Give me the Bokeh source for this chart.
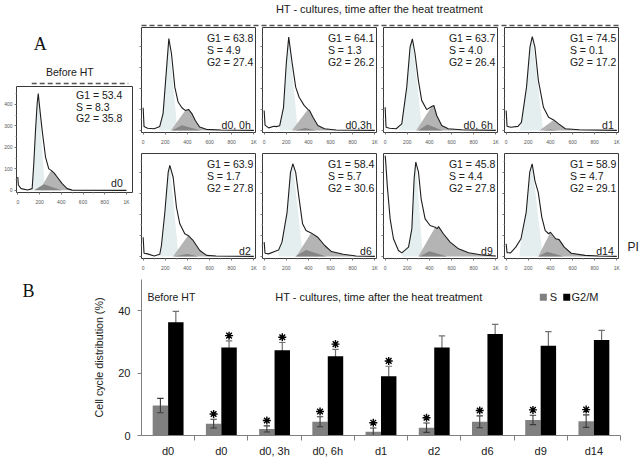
from bokeh.plotting import figure
from bokeh.layouts import row, column
from bokeh.models import Range1d, FixedTicker, Spacer, LinearAxis
from bokeh.core.properties import value
from bokeh.embed import file_html
from bokeh.resources import INLINE

SANS = "Liberation Sans"
SERIF = "Liberation Serif"

# ---------------- histogram data (PI channel, counts) ----------------
before_x = [0, 5, 30, 90, 132, 147, 163, 178, 188, 207, 224, 255, 285, 307, 335, 362, 408, 454, 500, 1000]
before_y = [62, 25, 8, 2, 8, 124, 279, 403, 450, 357, 279, 155, 100, 93, 80, 62, 31, 8, 1, 0]
d0_0h_x = [0, 8, 40, 100, 150, 180, 210, 232, 256, 286, 316, 350, 380, 410, 440, 470, 510, 570, 700, 1000]
d0_0h_y = [108, 18, 10, 8, 19, 80, 286, 437, 365, 206, 135, 108, 95, 100, 80, 48, 16, 5, 2, 0]
d0_3h_x = [0, 8, 40, 90, 110, 140, 175, 200, 222, 254, 285, 316, 361, 395, 410, 441, 485, 545, 650, 1000]
d0_3h_y = [95, 25, 12, 20, 18, 22, 110, 320, 444, 317, 206, 158, 119, 100, 95, 63, 23, 8, 2, 0]
d0_6h_x = [0, 8, 40, 100, 150, 195, 225, 246, 270, 300, 330, 375, 420, 440, 466, 511, 570, 690, 1000]
d0_6h_y = [110, 15, 10, 8, 31, 206, 396, 436, 365, 238, 143, 99, 114, 119, 71, 23, 8, 3, 0]
d1_x = [0, 8, 40, 107, 138, 184, 215, 236, 260, 291, 337, 383, 429, 474, 535, 660, 1000]
d1_y = [95, 20, 15, 19, 38, 206, 396, 447, 396, 238, 110, 63, 50, 31, 8, 3, 0]
d2_x = [0, 8, 40, 100, 150, 165, 196, 226, 241, 271, 301, 331, 376, 406, 451, 512, 573, 660, 1000]
d2_y = [91, 15, 12, 2, 10, 52, 210, 400, 433, 377, 234, 155, 108, 100, 76, 28, 5, 2, 0]
d6_x = [0, 8, 40, 100, 130, 161, 207, 238, 259, 285, 316, 347, 378, 424, 485, 547, 608, 715, 830, 1000]
d6_y = [68, 15, 12, 25, 30, 68, 210, 400, 441, 400, 274, 155, 123, 112, 91, 52, 23, 10, 2, 0]
d9_x = [0, 5, 20, 45, 75, 120, 150, 211, 241, 262, 277, 301, 325, 361, 406, 452, 470, 482, 526, 587, 663, 754, 874, 1000]
d9_y = [480, 450, 330, 179, 84, 28, 17, 44, 131, 372, 449, 401, 274, 179, 147, 139, 132, 142, 108, 68, 36, 17, 7, 2]
d14_x = [0, 8, 40, 87, 134, 181, 213, 235, 260, 290, 322, 353, 384, 400, 447, 478, 525, 588, 713, 838, 1000]
d14_y = [60, 18, 17, 44, 84, 210, 401, 441, 360, 305, 187, 123, 108, 115, 84, 80, 44, 15, 5, 2, 0]

hist_labels = ["d0", "d0, 0h", "d0,3h", "d0, 6h", "d1", "d2", "d6", "d9", "d14"]
g1_vals = [53.4, 63.8, 64.1, 63.7, 74.5, 63.9, 58.4, 45.8, 58.9]
s_vals = [8.3, 4.9, 1.3, 4.0, 0.1, 1.7, 5.7, 4.4, 4.7]
g2_vals = [35.8, 27.4, 26.2, 26.4, 17.2, 27.8, 30.6, 27.8, 29.1]

# fitted-phase outlines (channel positions / counts)
g1_left = [110, 140, 140, 120, 120, 140, 130, 150, 120]
g1_right = [250, 310, 305, 335, 335, 320, 350, 340, 330]
g2_left = [200, 250, 250, 280, 300, 270, 290, 300, 290]
g2_join = [290, 360, 380, 390, 400, 380, 400, 420, 390]
s_left = [150, 260, 280, 300, 330, 280, 280, 310, 290]
s_peak_x = [240, 350, 370, 380, 400, 400, 380, 400, 370]
s_peak_y = [28, 25, 12, 28, 4, 12, 30, 25, 22]
s_right = [400, 520, 470, 520, 470, 500, 560, 560, 520]

hist_xticks = [0, 200, 400, 600, 800, 1000]
hist_xminor = [100, 300, 500, 700, 900]
hist_yticks = [0, 100, 200, 300, 400]
hist_yminor = [50, 150, 250, 350, 450]

# ---------------- bar chart data ----------------
bar_labels = ["d0", "d0", "d0, 3h", "d0, 6h", "d1", "d2", "d6", "d9", "d14"]
s_mean = [9.6, 3.8, 2.1, 4.4, 1.2, 2.5, 4.4, 5.0, 4.6]
s_err = [2.3, 1.4, 1.0, 1.6, 1.2, 1.5, 1.9, 1.5, 2.0]
g2m_mean = [36.3, 28.2, 27.3, 25.4, 19.0, 28.2, 32.5, 28.8, 30.6]
g2m_err = [3.5, 2.1, 2.5, 2.2, 3.2, 3.7, 3.1, 4.5, 3.1]
s_star = [False, True, True, True, True, True, True, True, True]
g2m_star = [False, True, True, True, True, False, False, False, False]
bar_yticks = [0, 20, 40]

HIST = [(before_x, before_y), (d0_0h_x, d0_0h_y), (d0_3h_x, d0_3h_y), (d0_6h_x, d0_6h_y),
        (d1_x, d1_y), (d2_x, d2_y), (d6_x, d6_y), (d9_x, d9_y), (d14_x, d14_y)]


def base_fig(w, h, xr, yr, bl=0, br=0, bt=0, bb=0):
    p = figure(width=w, height=h, x_range=Range1d(*xr), y_range=Range1d(*yr),
               output_backend="svg", toolbar_location=None,
               min_border_left=bl, min_border_right=br, min_border_top=bt, min_border_bottom=bb,
               x_axis_type=None, y_axis_type=None)
    p.outline_line_color = None
    p.background_fill_color = "white"
    p.border_fill_color = "white"
    return p


def text_fig(w, h):
    return base_fig(w, h, (0, w), (0, h))


def hist_panel(i, w, h, bl, br, bt, bb, xr, yr, ylabels, stat_x, stat_y, lab_x, lab_y):
    p = base_fig(w, h, xr, yr, bl, br, bt, bb)
    p.outline_line_color = "#3a3a3a"
    p.outline_line_width = 1
    xs, ys = HIST[i]
    lo = g1_left[i]
    pk = max((yy, xx) for xx, yy in zip(xs, ys) if xx >= lo)[1]
    gx = [lo] + [xx for xx in xs if lo <= xx <= pk] + [g1_right[i]]
    gy = [0] + [yy for xx, yy in zip(xs, ys) if lo <= xx <= pk] + [0]
    p.patch(gx, gy, fill_color="#e4eeee", line_color=None)
    jx = [g2_left[i]] + [xx for xx in xs if xx >= g2_join[i]] + [xs[-1]]
    jy = [0] + [yy for xx, yy in zip(xs, ys) if xx >= g2_join[i]] + [0]
    p.patch(jx, jy, fill_color="#b4b4b4", line_color=None)
    p.patch([s_left[i], s_peak_x[i], s_right[i]], [0, s_peak_y[i], 0],
            fill_color="#858585", line_color=None)
    p.line(xs, ys, line_color="#1e1e1e", line_width=1.1)
    p.text(x=[stat_x] * 3, y=stat_y,
           text=["G1 = %.1f" % g1_vals[i], "S = %.1f" % s_vals[i], "G2 = %.1f" % g2_vals[i]],
           text_font=value(SANS), text_font_size="10.5px", text_color="#202020",
           text_align="left", text_baseline="middle")
    p.text(x=[lab_x], y=[lab_y], text=[hist_labels[i]],
           text_font=value(SANS), text_font_size="10.5px", text_color="#202020",
           text_align="right", text_baseline="middle")
    xa = LinearAxis(ticker=FixedTicker(ticks=hist_xticks, minor_ticks=hist_xminor),
                    major_label_overrides={1000: "1K"})
    xa.axis_line_color = None
    xa.major_tick_line_color = "#777777"
    xa.minor_tick_line_color = "#999999"
    xa.major_tick_out = 2
    xa.major_tick_in = 0
    xa.minor_tick_out = 1
    xa.minor_tick_in = 0
    xa.major_label_standoff = 4
    xa.major_label_text_font = SANS
    xa.major_label_text_font_size = "5px"
    xa.major_label_text_color = "#555555"
    p.add_layout(xa, "below")
    if ylabels:
        ya = LinearAxis(ticker=FixedTicker(ticks=hist_yticks, minor_ticks=hist_yminor))
        ya.major_label_standoff = 2
    else:
        ya = LinearAxis(ticker=FixedTicker(ticks=hist_yticks, minor_ticks=hist_yminor),
                        major_label_overrides={t: "" for t in hist_yticks})
        ya.major_label_standoff = 0
    ya.major_label_text_font_size = "5px"
    ya.axis_line_color = None
    ya.major_tick_line_color = "#777777"
    ya.minor_tick_line_color = "#999999"
    ya.major_tick_out = 2
    ya.major_tick_in = 0
    ya.minor_tick_out = 1
    ya.minor_tick_in = 0
    ya.major_label_text_font = SANS
    ya.major_label_text_color = "#555555"
    p.add_layout(ya, "left")
    return p


# ---------------- top-left block (Before HT) ----------------
ltop = text_fig(137, 85)
ltop.text(x=[28], y=[42], text=["A"], text_font=value(SERIF), text_font_size="18px",
          text_color="#111111", text_align="center", text_baseline="middle")
ltop.text(x=[63], y=[14], text=["Before HT"], text_font=value(SANS), text_font_size="10.5px",
          text_color="#202020", text_align="center", text_baseline="middle")
ltop.line([18, 132], [2, 2], line_color="#555555", line_width=1.5, line_dash="5 3")

lpanel = hist_panel(0, 137, 191, 16, 5, 1, 84, (-12, 1055), (-10, 483), True,
                    535, [442, 388, 335], 965, 33)
left_block = column(ltop, lpanel, spacing=0)

# ---------------- top-right block ----------------
header = text_fig(506, 27)
header.text(x=[242], y=[19], text=["HT - cultures, time after the heat treatment"],
            text_font=value(SANS), text_font_size="11px", text_color="#202020",
            text_align="center", text_baseline="middle")
header.line([4, 483], [2, 2], line_color="#555555", line_width=1.5, line_dash="5 3")

row1 = []
for k in range(4):
    row1.append(hist_panel(1 + k, 121, 123, 4, 3, 0, 18, (-15, 1015), (-10, 490), False,
                           576, [442, 385, 328], 972, 28))
row1.append(Spacer(width=22, height=123))

row2 = []
for k in range(4):
    row2.append(hist_panel(5 + k, 121, 126, 4, 3, 3, 18, (-15, 1015), (-10, 490), False,
                           576, [442, 385, 328], 972, 28))
pi_fig = text_fig(22, 126)
pi_fig.text(x=[6], y=[14], text=["PI"], text_font=value(SANS), text_font_size="12px",
            text_color="#202020", text_align="left", text_baseline="middle")
row2.append(pi_fig)

right_block = column(header, row(*row1, spacing=0), row(*row2, spacing=0), spacing=0)
top_block = row(left_block, right_block, spacing=0)

# ---------------- bar chart ----------------
bfig = text_fig(60, 184)
bfig.text(x=[28], y=[170], text=["B"], text_font=value(SERIF), text_font_size="18px",
          text_color="#111111", text_align="center", text_baseline="middle")

bar = base_fig(583, 184, (-0.5, 8.5), (0, 50), 81, 23, 3, 25)
pos = list(range(len(bar_labels)))
xs_s = [c - 0.145 for c in pos]
xs_g = [c + 0.145 for c in pos]
cap = 0.06
p_top = [m + e for m, e in zip(g2m_mean, g2m_err)]
p_bot = [m - e for m, e in zip(g2m_mean, g2m_err)]
bar.segment(xs_g, p_bot, xs_g, p_top, line_color="#707070", line_width=1.2)
bar.segment([x - cap for x in xs_g], p_top, [x + cap for x in xs_g], p_top,
            line_color="#707070", line_width=1.2)
bar.vbar(x=xs_s, top=s_mean, width=0.29, bottom=0, fill_color="#808080", line_color=None)
bar.vbar(x=xs_g, top=g2m_mean, width=0.29, bottom=0, fill_color="#000000", line_color=None)
s_top = [m + e for m, e in zip(s_mean, s_err)]
s_bot = [max(m - e, 0) for m, e in zip(s_mean, s_err)]
bar.segment(xs_s, s_bot, xs_s, s_top, line_color="#3a3a3a", line_width=1.1)
bar.segment([x - cap for x in xs_s], s_top, [x + cap for x in xs_s], s_top,
            line_color="#3a3a3a", line_width=1.1)
bar.segment([x - cap for x in xs_s], s_bot, [x + cap for x in xs_s], s_bot,
            line_color="#3a3a3a", line_width=1.1)
st_x = [x for x, f in zip(xs_s, s_star) if f] + [x for x, f in zip(xs_g, g2m_star) if f]
st_y = [t + 1.7 for t, f in zip(s_top, s_star) if f] + [t + 1.7 for t, f in zip(p_top, g2m_star) if f]
bar.scatter(st_x, st_y, marker="asterisk", size=8, line_color="#000000", line_width=1.4)
bar.text(x=[-0.387], y=[44.3], text=["Before HT"], text_font=value(SANS), text_font_size="10.5px",
         text_color="#202020", text_align="left", text_baseline="middle")
bar.text(x=[3.96], y=[44.3], text=["HT - cultures, time after the heat treatment"],
         text_font=value(SANS), text_font_size="11px", text_color="#202020",
         text_align="center", text_baseline="middle")
bar.scatter([7.05, 7.49], [44.3, 44.3], marker="square", size=7,
            fill_color=["#808080", "#000000"], line_color=None)
bar.text(x=[7.17, 7.58], y=[44.3, 44.3], text=["S", "G2/M"], text_font=value(SANS),
         text_font_size="11px", text_color="#202020", text_align="left", text_baseline="middle")

bx = LinearAxis(ticker=FixedTicker(ticks=pos, minor_ticks=[0.5 + k for k in range(9)]),
                major_label_overrides={i: lab for i, lab in enumerate(bar_labels)})
bx.axis_line_color = "#808080"
bx.major_tick_line_color = None
bx.major_tick_out = 0
bx.major_tick_in = 0
bx.minor_tick_line_color = "#808080"
bx.minor_tick_out = 5
bx.minor_tick_in = 0
bx.major_label_standoff = 4
bx.major_label_text_font = SANS
bx.major_label_text_font_size = "11px"
bx.major_label_text_color = "#202020"
bar.add_layout(bx, "below")

by = LinearAxis(ticker=FixedTicker(ticks=bar_yticks, minor_ticks=[]))
by.axis_line_color = "#808080"
by.major_tick_line_color = "#808080"
by.major_tick_out = 4
by.major_tick_in = 0
by.major_label_standoff = 7
by.major_label_text_font = SANS
by.major_label_text_font_size = "11px"
by.major_label_text_color = "#202020"
by.axis_label = "Cell cycle distribution (%)"
by.axis_label_text_font = SANS
by.axis_label_text_font_size = "10.7px"
by.axis_label_text_font_style = "normal"
by.axis_label_text_color = "#202020"
by.axis_label_standoff = 10
bar.add_layout(by, "left")

bottom_block = row(bfig, bar, spacing=0)
page = column(top_block, bottom_block, spacing=0)

open("out.html", "w").write(file_html(page, INLINE))
